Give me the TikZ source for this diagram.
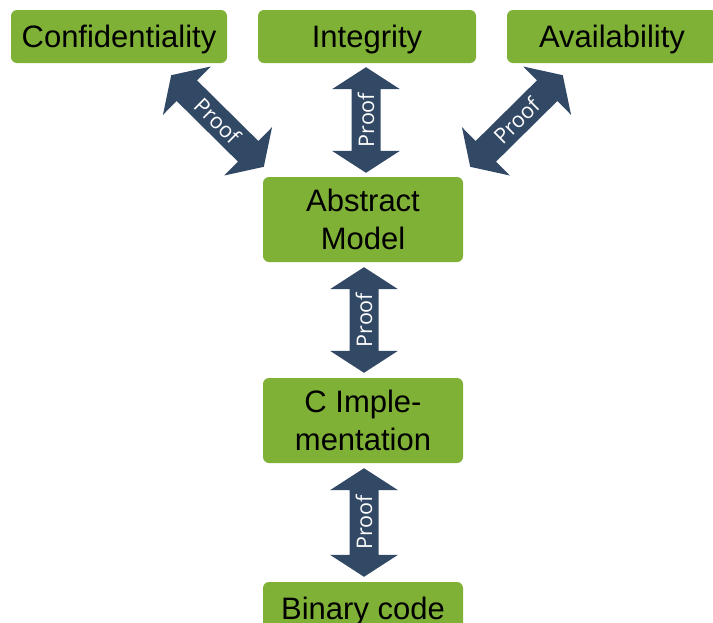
\documentclass[tikz,border=0pt]{standalone}
\usepackage{fontspec}
\setmainfont{Liberation Sans}
\newfontfamily\prooffont{Open Sans}
\usetikzlibrary{calc}
\definecolor{boxgreen}{RGB}{127,177,55}
\definecolor{arrowblue}{RGB}{50,73,102}
\newcommand\proofarrow[3]{%
  \coordinate (hA) at ($(#1)!22pt!(#2)$);
  \coordinate (hB) at ($(#2)!22pt!(#1)$);
  \fill[arrowblue] (#1) -- ($(hA)!34pt!90:(#2)$) -- ($(hA)!14.5pt!90:(#2)$)
    -- ($(hB)!14.5pt!-90:(#1)$) -- ($(hB)!34pt!-90:(#1)$) -- (#2)
    -- ($(hB)!34pt!90:(#1)$) -- ($(hB)!14.5pt!90:(#1)$)
    -- ($(hA)!14.5pt!-90:(#2)$) -- ($(hA)!34pt!-90:(#2)$) -- cycle;
  \path (#1) -- (#2) node[midway, sloped, allow upside down, prooflabel] (#3) {Proof};
}
\begin{document}
\begin{tikzpicture}[x=1pt,y=-1pt,
  box/.style={fill=boxgreen, rounded corners=6pt, inner sep=0pt, align=center,
    text=black, font=\fontsize{31}{38}\selectfont},
  onebox/.style={box, minimum height=53pt, text height=22pt, text depth=0pt},
  prooflabel/.style={text=white, inner sep=0pt, font=\prooffont\fontsize{21.5}{24}\selectfont}]
\clip (0,0) rectangle (713,622);
\useasboundingbox (0,0) rectangle (713,622);

\node[onebox, minimum width=216pt] (conf) at (119,36.5) {Confidentiality};
\node[onebox, minimum width=218pt] (integ) at (367,36.5) {Integrity};
\node[onebox, minimum width=210pt] (avail) at (612,36.5) {Availability};
\node[box, minimum width=200pt, minimum height=85pt] (abs) at (363,219.5) {Abstract\\Model};
\node[box, minimum width=200pt, minimum height=85pt] (cimp) at (363,420.5) {C Imple-\\mentation};
\node[onebox, minimum width=200pt] (bin) at (363,608.5) {Binary code};

\coordinate (a1s) at ($(abs.north)+(3,-4)$);
\coordinate (a1e) at ($(integ.south)+(-1,4)$);
\proofarrow{a1s}{a1e}{p1}

\coordinate (a2s) at ($(conf.south east)+(-56,12)$);
\coordinate (a2e) at ($(abs.north west)+(1,-10)$);
\proofarrow{a2s}{a2e}{p2}

\coordinate (a3s) at ($(abs.north east)+(7,-10)$);
\coordinate (a3e) at ($(avail.south west)+(56,12)$);
\proofarrow{a3s}{a3e}{p3}

\coordinate (a4s) at ($(cimp.north)+(1,-5)$);
\coordinate (a4e) at ($(abs.south)+(1,5)$);
\proofarrow{a4s}{a4e}{p4}

\coordinate (a5s) at ($(bin.north)+(1,-5)$);
\coordinate (a5e) at ($(cimp.south)+(1,5)$);
\proofarrow{a5s}{a5e}{p5}
\end{tikzpicture}
\end{document}
